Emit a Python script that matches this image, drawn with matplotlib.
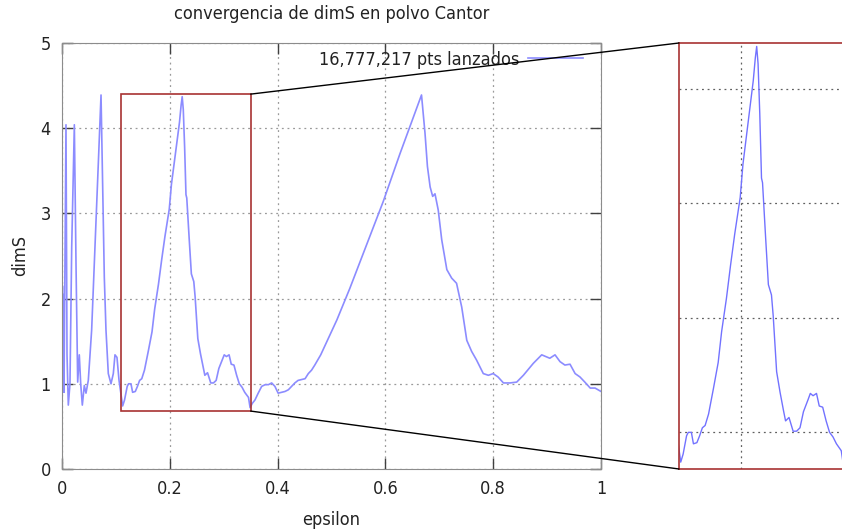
import matplotlib
matplotlib.use("Agg")
import matplotlib.pyplot as plt
from matplotlib.patches import Rectangle, ConnectionPatch

plt.rcParams["font.family"] = "DejaVu Sans"
plt.rcParams["font.stretch"] = "condensed"

# dimS estimate as a function of epsilon
epsilon = [
    0.0000, 0.0004, 0.0008, 0.0012, 0.0016, 0.0020, 0.0024, 0.0028, 0.0033, 0.0037,
    0.0074, 0.0093, 0.0117, 0.0148, 0.0180, 0.0229, 0.0260, 0.0291, 0.0321, 0.0347,
    0.0377, 0.0414, 0.0445, 0.0488, 0.0550, 0.0612, 0.0674, 0.0724, 0.0755, 0.0785,
    0.0816, 0.0859, 0.0909, 0.0952, 0.0983, 0.1020, 0.1058, 0.1090,
    0.1125, 0.1160, 0.1210, 0.1235, 0.1280, 0.1310, 0.1360, 0.1400, 0.1440, 0.1480,
    0.1530, 0.1600, 0.1670, 0.1720, 0.1790, 0.1850, 0.1910, 0.1990, 0.2030, 0.2090,
    0.2140, 0.2180, 0.2210, 0.2230, 0.2250, 0.2275, 0.2300, 0.2315, 0.2335, 0.2360,
    0.2400, 0.2445, 0.2470, 0.2520, 0.2570, 0.2620, 0.2650, 0.2700, 0.2760, 0.2810,
    0.2860, 0.2910, 0.2980, 0.3010, 0.3050, 0.3100, 0.3140, 0.3190, 0.3240, 0.3290,
    0.3340, 0.3390, 0.3460, 0.3490,
    0.3530, 0.3580, 0.3640, 0.3705, 0.3770, 0.3830, 0.3890, 0.3950, 0.4010, 0.4076,
    0.4137, 0.4200, 0.4260, 0.4320, 0.4380, 0.4447, 0.4510, 0.4570, 0.4630, 0.4690,
    0.4800, 0.4940, 0.5100, 0.5340, 0.5650, 0.5960, 0.6270, 0.6520, 0.6670, 0.6735,
    0.6780, 0.6830, 0.6877, 0.6920, 0.6980, 0.7045, 0.7140, 0.7230, 0.7320, 0.7416,
    0.7510, 0.7600, 0.7690, 0.7816, 0.7910, 0.8000, 0.8090, 0.8190, 0.8310, 0.8436,
    0.8560, 0.8744, 0.8900, 0.9050, 0.9147, 0.9240, 0.9330, 0.9425, 0.9520, 0.9610,
    0.9700, 0.9800, 0.9890, 1.0000,
]
dims = [
    2.20, 1.00, 2.15, 0.95, 2.05, 1.10, 1.80, 0.95, 1.40, 0.90,
    4.04, 1.34, 0.75, 1.00, 2.60, 4.04, 2.40, 1.02, 1.34, 1.00,
    0.75, 0.98, 0.89, 1.04, 1.63, 2.60, 3.59, 4.39, 3.27, 2.25,
    1.63, 1.12, 1.00, 1.12, 1.34, 1.31, 1.04, 0.90,
    0.74, 0.81, 0.97, 1.00, 1.00, 0.90, 0.91, 0.97, 1.04, 1.06,
    1.16, 1.38, 1.61, 1.88, 2.17, 2.46, 2.73, 3.05, 3.34, 3.63,
    3.87, 4.07, 4.27, 4.37, 4.22, 3.78, 3.22, 3.18, 2.96, 2.70,
    2.29, 2.20, 2.02, 1.53, 1.35, 1.19, 1.10, 1.13, 1.01, 1.01,
    1.04, 1.18, 1.29, 1.34, 1.32, 1.34, 1.23, 1.22, 1.10, 1.00,
    0.96, 0.90, 0.84, 0.72,
    0.77, 0.81, 0.89, 0.97, 0.99, 0.99, 1.01, 0.97, 0.89, 0.90,
    0.91, 0.93, 0.97, 1.01, 1.04, 1.05, 1.06, 1.12, 1.16, 1.22,
    1.34, 1.53, 1.75, 2.12, 2.63, 3.14, 3.70, 4.13, 4.39, 3.94,
    3.55, 3.31, 3.20, 3.23, 3.04, 2.69, 2.34, 2.24, 2.18, 1.90,
    1.51, 1.38, 1.28, 1.12, 1.10, 1.12, 1.08, 1.01, 1.01, 1.02,
    1.10, 1.24, 1.34, 1.30, 1.34, 1.26, 1.22, 1.23, 1.12, 1.08,
    1.02, 0.95, 0.95, 0.91,
]

series_label = "16,777,217 pts lanzados"
xticks = [0, 0.2, 0.4, 0.6, 0.8, 1]
xticklabels = ["0", "0.2", "0.4", "0.6", "0.8", "1"]
yticks = [0, 1, 2, 3, 4, 5]

zoom_x = (0.11, 0.35)
zoom_y = (0.68, 4.40)

line_color = "#8c8cff"
frame_color = "#8c8c8c"
box_color = "#a83232"
text_color = "#222222"
fs = 13

fig = plt.figure(figsize=(8.42, 5.29), dpi=100)
ax = fig.add_axes([62 / 842, 1 - 469 / 529, 539 / 842, 426 / 529])
axins = fig.add_axes([679 / 842, 1 - 469 / 529, 165 / 842, 426 / 529])

# main panel
ax.plot(epsilon, dims, color=line_color, lw=1.2, label=series_label)
ax.set_xlim(0, 1)
ax.set_ylim(0, 5)
ax.set_xticks(xticks)
ax.set_xticklabels(xticklabels)
ax.set_yticks(yticks)
ax.tick_params(direction="in", length=8, width=1, top=True, right=True,
               color="#404040", labelcolor=text_color, labelsize=fs, pad=8)
ax.grid(True, linestyle=(0, (1.5, 3)), color="#9a9a9a", lw=0.9)
for s in ax.spines.values():
    s.set_color(frame_color)
ax.set_title("convergencia de dimS en polvo Cantor", fontsize=fs, pad=17, color=text_color)
ax.set_xlabel("epsilon", fontsize=fs, labelpad=9, color=text_color)
ax.set_ylabel("dimS", fontsize=fs, labelpad=8, color=text_color)
ax.legend(loc="upper right", bbox_to_anchor=(0.996, 1.02), frameon=False,
          markerfirst=False, handlelength=3.0, handletextpad=0.5,
          fontsize=fs, labelcolor=text_color)

# zoomed panel
axins.plot(epsilon, dims, color="#7272ff", lw=1.0)
axins.set_xlim(*zoom_x)
axins.set_ylim(*zoom_y)
axins.set_xticks([0.2])
axins.set_yticks([1, 2, 3, 4])
axins.tick_params(length=0, labelbottom=False, labelleft=False)
axins.grid(True, linestyle=(0, (1.5, 3)), color="#606060", lw=0.9)
for s in axins.spines.values():
    s.set_color(box_color)
    s.set_linewidth(1.2)

# outline of the zoomed region and the connectors
ax.add_patch(Rectangle((zoom_x[0], zoom_y[0]), zoom_x[1] - zoom_x[0], zoom_y[1] - zoom_y[0],
                       fill=False, edgecolor=box_color, lw=1.2, zorder=5))
for ya, yb in ((zoom_y[1], 1), (zoom_y[0], 0)):
    con = ConnectionPatch(xyA=(zoom_x[1], ya), coordsA=ax.transData,
                          xyB=(0, yb), coordsB=axins.transAxes,
                          color="black", lw=1.0, zorder=6)
    fig.add_artist(con)

fig.savefig("out.png", dpi=100)
